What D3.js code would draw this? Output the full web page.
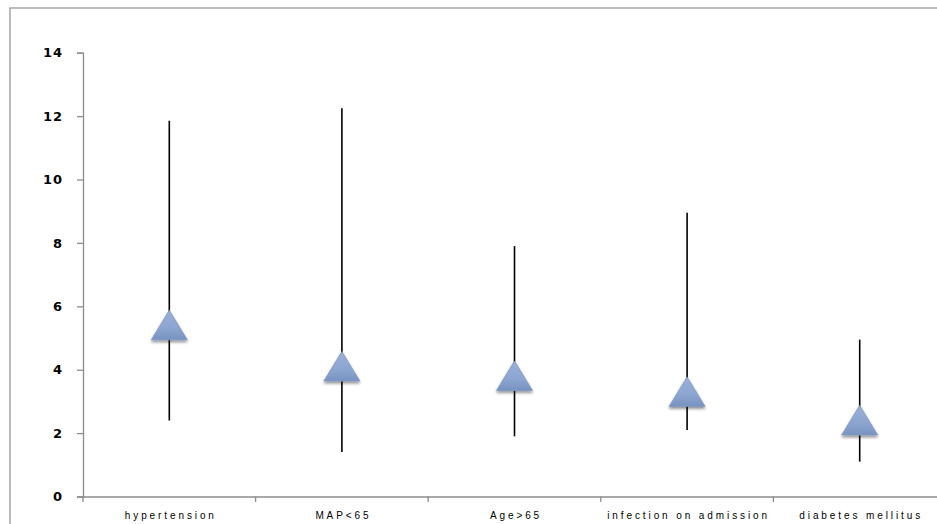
<!DOCTYPE html>
<html>
<head>
<meta charset="utf-8">
<script src="https://cdn.jsdelivr.net/npm/d3@7"></script>
<style>
  html, body { margin: 0; padding: 0; background: #fff; }
  svg { display: block; }
</style>
</head>
<body>
<svg id="chart" width="937" height="524"></svg>
<script>
const categories = ["hypertension", "MAP<65", "Age>65", "infection on admission", "diabetes mellitus"];
const pointValues = [5.4, 4.1, 3.8, 3.3, 2.4];
const lowerValues = [2.4, 1.4, 1.9, 2.1, 1.1];
const upperValues = [11.85, 12.25, 7.9, 8.95, 4.95];
const yTicks = [0, 2, 4, 6, 8, 10, 12, 14];

const svg = d3.select("#chart");
const defs = svg.append("defs");

const grad = defs.append("linearGradient").attr("id", "triGrad")
  .attr("x1", "0").attr("y1", "0").attr("x2", "0").attr("y2", "1");
grad.append("stop").attr("offset", "0%").attr("stop-color", "#9ab1d9");
grad.append("stop").attr("offset", "60%").attr("stop-color", "#8ca5d0");
grad.append("stop").attr("offset", "100%").attr("stop-color", "#7893c1");

const filt = defs.append("filter").attr("id", "shadow")
  .attr("x", "-30%").attr("y", "-30%").attr("width", "160%").attr("height", "170%");
filt.append("feGaussianBlur").attr("in", "SourceAlpha").attr("stdDeviation", 1.6).attr("result", "blur");
filt.append("feOffset").attr("in", "blur").attr("dx", 0).attr("dy", 2).attr("result", "off");
filt.append("feComponentTransfer").attr("in", "off").attr("result", "soft")
  .append("feFuncA").attr("type", "linear").attr("slope", 0.45);
const merge = filt.append("feMerge");
merge.append("feMergeNode").attr("in", "soft");
merge.append("feMergeNode").attr("in", "SourceGraphic");

// outer frame
svg.append("rect")
  .attr("x", 10).attr("y", 8).attr("width", 960).attr("height", 540)
  .attr("fill", "none").attr("stroke", "#a6a6a6").attr("stroke-width", 1.5);

const x = d3.scaleBand().domain(categories).range([83, 946]).padding(0);
const y = d3.scaleLinear().domain([0, 14]).range([496.5, 52.7]);

// y axis
const yAxis = svg.append("g")
  .attr("transform", "translate(83,0)")
  .call(d3.axisLeft(y).tickValues(yTicks).tickSize(6).tickPadding(15).tickFormat(d3.format("d")));
yAxis.select(".domain").attr("stroke", "#8c8c8c").attr("stroke-width", 1.3);
yAxis.selectAll(".tick line").attr("stroke", "#8c8c8c").attr("stroke-width", 1.3);
yAxis.selectAll(".tick text")
  .attr("font-family", "DejaVu Sans, Verdana, sans-serif")
  .attr("font-weight", "bold").attr("font-size", 13).attr("fill", "#000")
  .attr("letter-spacing", "1px").attr("dx", "1");

// x axis (labels centred in bands)
const xAxis = svg.append("g")
  .attr("transform", "translate(0,496.5)")
  .call(d3.axisBottom(x).tickSize(0).tickPadding(0).tickSizeOuter(0));
xAxis.select(".domain").attr("stroke", "#8c8c8c").attr("stroke-width", 1.3);
xAxis.selectAll(".tick text")
  .attr("font-family", "Liberation Sans, Arial, sans-serif")
  .attr("font-size", 10).attr("fill", "#000")
  .attr("letter-spacing", "2.9px")
  .attr("y", 22).attr("dy", 0).attr("dx", 1.5);

// boundary tick marks between categories
svg.append("g").selectAll("line")
  .data(categories)
  .join("line")
  .attr("x1", d => x(d)).attr("x2", d => x(d))
  .attr("y1", 496.5).attr("y2", 502)
  .attr("stroke", "#8c8c8c").attr("stroke-width", 1.3);

const rows = categories.map((c, i) => ({ c, v: pointValues[i], lo: lowerValues[i], hi: upperValues[i] }));

// whiskers
svg.append("g").selectAll("line")
  .data(rows)
  .join("line")
  .attr("x1", d => x(d.c) + x.bandwidth() / 2)
  .attr("x2", d => x(d.c) + x.bandwidth() / 2)
  .attr("y1", d => y(d.lo))
  .attr("y2", d => y(d.hi))
  .attr("stroke", "#000").attr("stroke-width", 1.6);

// triangle markers
const triHalfW = 18, triUp = 15, triDown = 14.5;
svg.append("g").selectAll("path")
  .data(rows)
  .join("path")
  .attr("d", d => {
    const cx = x(d.c) + x.bandwidth() / 2, cy = y(d.v);
    return `M${cx},${cy - triUp} L${cx + triHalfW},${cy + triDown} L${cx - triHalfW},${cy + triDown} Z`;
  })
  .attr("fill", "url(#triGrad)")
  .attr("stroke", "#7d97c4").attr("stroke-width", 0.8)
  .attr("stroke-linejoin", "round")
  .attr("filter", "url(#shadow)");
</script>
</body>
</html>
